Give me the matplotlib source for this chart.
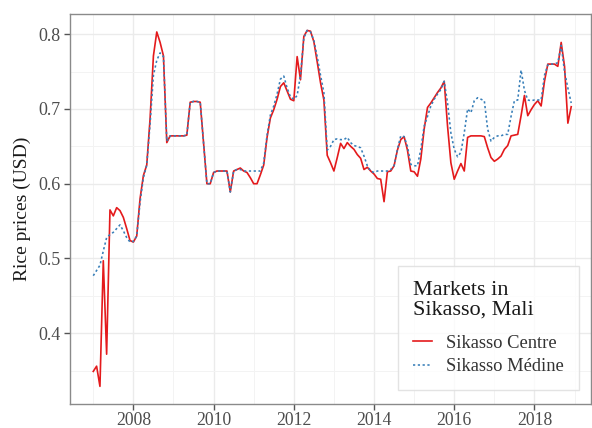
import numpy as np
import pandas as pd
import matplotlib
matplotlib.use("Agg")
import matplotlib.pyplot as plt
from matplotlib.ticker import MultipleLocator, FixedLocator

plt.rcParams['font.family'] = ['Liberation Serif', 'DejaVu Serif']

# Monthly series, Jan 2007 - Dec 2018
months = pd.date_range("2007-01-01", periods=144, freq="MS")

sikasso_centre = [
    0.349, 0.356, 0.329, 0.497, 0.372, 0.565, 0.557, 0.568, 0.564, 0.555, 0.540, 0.524,
    0.522, 0.530, 0.580, 0.611, 0.625, 0.687, 0.771, 0.803, 0.789, 0.771, 0.655, 0.664,
    0.664, 0.664, 0.664, 0.664, 0.665, 0.709, 0.710, 0.710, 0.709, 0.655, 0.600, 0.600,
    0.615, 0.617, 0.617, 0.617, 0.617, 0.589, 0.617, 0.619, 0.621, 0.617, 0.615, 0.608,
    0.600, 0.600, 0.612, 0.625, 0.662, 0.688, 0.699, 0.713, 0.730, 0.735, 0.724, 0.713,
    0.711, 0.770, 0.739, 0.797, 0.805, 0.804, 0.790, 0.763, 0.735, 0.712, 0.638, 0.628,
    0.617, 0.635, 0.654, 0.647, 0.655, 0.650, 0.646, 0.639, 0.634, 0.619, 0.622, 0.617,
    0.613, 0.607, 0.606, 0.576, 0.616, 0.617, 0.624, 0.645, 0.659, 0.663, 0.645, 0.617,
    0.616, 0.610, 0.633, 0.673, 0.702, 0.708, 0.715, 0.722, 0.728, 0.737, 0.677, 0.628,
    0.606, 0.617, 0.627, 0.617, 0.662, 0.664, 0.664, 0.664, 0.664, 0.663, 0.648, 0.635,
    0.630, 0.633, 0.637, 0.646, 0.651, 0.664, 0.665, 0.666, 0.691, 0.718, 0.691, 0.699,
    0.706, 0.711, 0.704, 0.737, 0.760, 0.760, 0.760, 0.757, 0.789, 0.757, 0.681, 0.703,
]

sikasso_medine = [
    0.477, 0.484, 0.491, 0.510, 0.528, 0.532, 0.535, 0.540, 0.545, 0.537, 0.528, 0.522,
    0.523, 0.530, 0.575, 0.608, 0.625, 0.680, 0.745, 0.765, 0.775, 0.770, 0.657, 0.664,
    0.664, 0.664, 0.664, 0.664, 0.665, 0.709, 0.710, 0.710, 0.709, 0.655, 0.600, 0.600,
    0.615, 0.617, 0.617, 0.617, 0.617, 0.589, 0.617, 0.619, 0.619, 0.617, 0.617, 0.617,
    0.617, 0.617, 0.617, 0.628, 0.665, 0.692, 0.704, 0.720, 0.740, 0.744, 0.728, 0.716,
    0.713, 0.718, 0.745, 0.795, 0.805, 0.803, 0.792, 0.770, 0.745, 0.722, 0.645, 0.650,
    0.659, 0.660, 0.659, 0.659, 0.662, 0.655, 0.651, 0.650, 0.648, 0.637, 0.624, 0.617,
    0.615, 0.617, 0.617, 0.617, 0.617, 0.619, 0.624, 0.646, 0.664, 0.663, 0.650, 0.626,
    0.624, 0.624, 0.646, 0.677, 0.690, 0.704, 0.713, 0.720, 0.726, 0.737, 0.708, 0.668,
    0.646, 0.636, 0.642, 0.668, 0.700, 0.695, 0.711, 0.715, 0.713, 0.711, 0.673, 0.657,
    0.662, 0.664, 0.664, 0.666, 0.666, 0.690, 0.711, 0.712, 0.752, 0.725, 0.712, 0.711,
    0.712, 0.712, 0.712, 0.745, 0.759, 0.760, 0.760, 0.762, 0.785, 0.750, 0.728, 0.708,
]

series_labels = ["Sikasso Centre", "Sikasso Médine"]
legend_title = "Markets in\nSikasso, Mali"
y_label = "Rice prices (USD)"

x = months.year + (months.month - 1) / 12.0

fig = plt.figure(figsize=(5.92, 4.28), dpi=100)
ax = fig.add_axes([70 / 592, 1 - 404.3 / 428, 521 / 592, 390.3 / 428])

ax.plot(x, sikasso_centre, color="#E41A1C", lw=1.2, label=series_labels[0], zorder=3)
ax.plot(x, sikasso_medine, color="#377EB8", lw=1.15, linestyle=(0, (1.4, 1.6)),
        label=series_labels[1], zorder=4)

ax.set_xlim(2006.42, 2019.41)
ax.set_ylim(0.305, 0.827)

ax.xaxis.set_major_locator(FixedLocator([2008, 2010, 2012, 2014, 2016, 2018]))
ax.xaxis.set_minor_locator(FixedLocator([2007, 2009, 2011, 2013, 2015, 2017, 2019]))
ax.set_xticklabels(["2008", "2010", "2012", "2014", "2016", "2018"])
ax.yaxis.set_major_locator(MultipleLocator(0.1))
ax.yaxis.set_minor_locator(MultipleLocator(0.05))
ax.yaxis.set_major_formatter(matplotlib.ticker.FormatStrFormatter('%.1f'))

ax.grid(which="major", color="#EBEBEB", lw=1.0, zorder=0)
ax.grid(which="minor", color="#F3F3F3", lw=0.7, zorder=0)
ax.set_axisbelow(True)

for s in ax.spines.values():
    s.set_color("#8a8a8a")
    s.set_linewidth(1.0)

ax.tick_params(which="major", length=4, width=1.0, color="#555555",
               labelsize=13, labelcolor="#4d4d4d", pad=3)
ax.tick_params(which="minor", length=0)
ax.tick_params(axis="x", pad=1.5, labelsize=12.7)

ax.set_ylabel(y_label, fontsize=14, color="#1a1a1a", labelpad=5)

leg = ax.legend(title=legend_title, loc="lower right",
                bbox_to_anchor=(0.977, 0.037), borderaxespad=0,
                fontsize=13.3, title_fontsize=16, frameon=True, fancybox=False,
                edgecolor="#DDDDDD", handlelength=1.0, handletextpad=0.8,
                labelspacing=0.35, borderpad=0.8)
leg._legend_box.align = "left"
leg._legend_box.sep = 11
leg.get_frame().set_linewidth(1.0)
for t in leg.get_texts():
    t.set_color("#333333")
leg.get_title().set_color("#1a1a1a")
leg.get_title().set_linespacing(1.05)

fig.savefig("out.png", dpi=100)
